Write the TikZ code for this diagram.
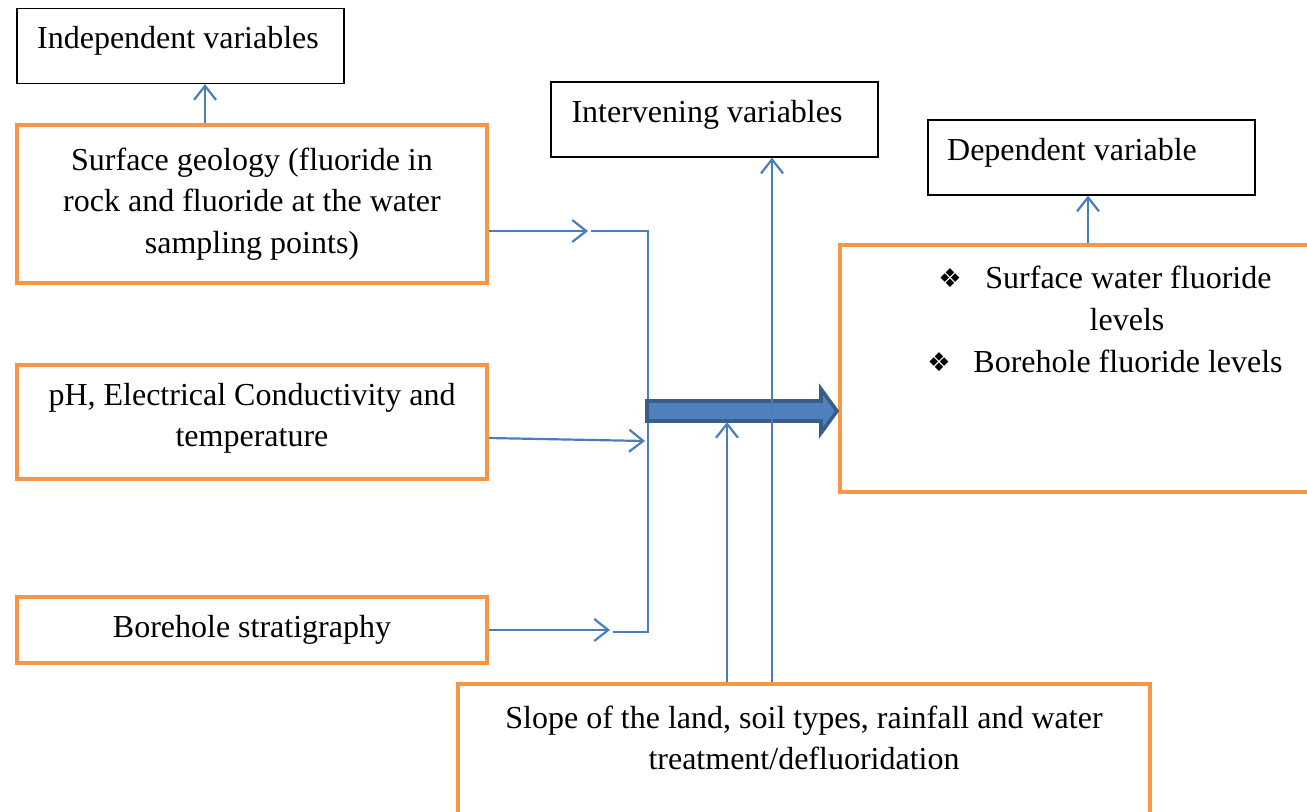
\documentclass[tikz,border=0pt]{standalone}
\usepackage{fontspec}
\setmainfont{Liberation Serif}
\newfontfamily\dingfont{DejaVu Sans}
\usetikzlibrary{arrows.meta}
\definecolor{boxorange}{HTML}{F79646}
\definecolor{linkblue}{HTML}{4A7EBB}
\definecolor{flowfill}{HTML}{4F81BD}
\definecolor{flowedge}{HTML}{385D8A}

\begin{document}
\begin{tikzpicture}[x=0.5pt,y=-0.5pt,
    every node/.style={font=\fontsize{16}{20.7}\selectfont, align=center},
    varbox/.style={draw=black, line width=0.6pt, minimum width=163.5pt, minimum height=37.5pt, inner sep=0pt},
    factorbox/.style={draw=boxorange, line width=2pt, inner sep=0pt, align=center},
    link/.style={draw=linkblue, line width=1.1pt},
    linkarrow/.style={link, -{Straight Barb[length=7pt,width=11pt]}}
    ]
    \clip (0,0) rectangle (1307,811);

    \node [varbox] (indep) at (180.5,46) {};
    \node [anchor=base] (indeptext) at (178,48) {Independent variables};
    \node [varbox] (interv) at (714.5,119.5) {};
    \node [anchor=base] (intervtext) at (707,122) {Intervening variables};
    \node [varbox] (dep) at (1091.5,157.5) {};
    \node [anchor=base] (deptext) at (1072,160) {Dependent variable};

    \node [factorbox, minimum width=235pt, minimum height=79pt] (geo) at (252,204)
        {Surface geology (fluoride in\\rock and fluoride at the water\\sampling points)};
    \node [factorbox, minimum width=235pt, minimum height=57pt] (ph) at (252,422) {};
    \node (phtext) at (252,418) {pH, Electrical Conductivity and\\temperature};
    \node [factorbox, minimum width=235pt, minimum height=33pt] (bore) at (252,630) {Borehole stratigraphy};

    \node [factorbox, minimum width=240pt, minimum height=123.5pt] (levels) at (1080,368.5) {};
    \node (bul1) at (950,278) {\dingfont\fontsize{13}{13}\selectfont ❖};
    \node [anchor=base west, inner sep=0pt] (lev1) at (985,288) {Surface water fluoride};
    \node [anchor=base, inner sep=0pt] (lev1b) at (1127,330) {levels};
    \node (bul2) at (939,362) {\dingfont\fontsize{13}{13}\selectfont ❖};
    \node [anchor=base west, inner sep=0pt] (lev2) at (973,372) {Borehole fluoride levels};

    \node [factorbox, minimum width=346pt, minimum height=75pt] (slope) at (804,759) {};
    \node (slopetext) at (804,738) {Slope of the land, soil types, rainfall and water\\treatment/defluoridation};

    \coordinate (j1) at (591,231);
    \coordinate (j2) at (648,231);
    \coordinate (j3) at (648,632);
    \coordinate (j4) at (613,632);

    \draw [linkarrow] (geo.north -| 205,0) -- (indep.south -| 205,0);
    \draw [linkarrow] (levels.north -| 1088,0) -- (dep.south -| 1088,0);
    \draw [linkarrow] (geo.east |- 0,231) -- (588,231);
    \draw [link] (j1) -- (j2) -- (j3) -- (j4);
    \draw [linkarrow] (ph.east |- 0,438) -- (645,441);
    \draw [linkarrow] (bore.east |- 0,630) -- (610,630);

    \draw [fill=flowfill, draw=flowedge, line width=1.8pt, line join=miter]
        (647,401) -- (821,401) -- (821,389) -- (837,411) -- (821,433) -- (821,421) -- (647,421) -- cycle;

    \draw [linkarrow] (slope.north -| 727,0) -- (727,422);
    \draw [linkarrow] (slope.north -| 772,0) -- (interv.south -| 772,0);
\end{tikzpicture}
\end{document}
